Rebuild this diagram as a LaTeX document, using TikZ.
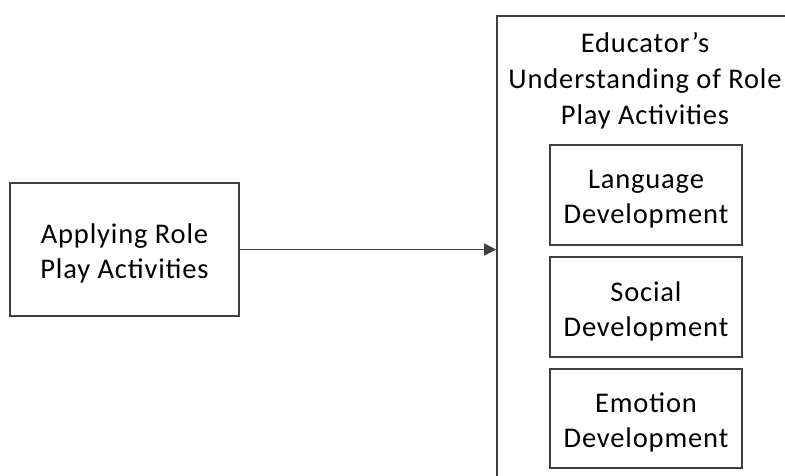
\documentclass[tikz,border=0pt]{standalone}
\usepackage{fontspec}
\setmainfont{Carlito}[LetterSpace=3]
\usetikzlibrary{arrows.meta}
\definecolor{edge}{HTML}{404040}
\begin{document}
\begin{tikzpicture}[x=1pt,y=-1pt,
  box/.style={draw=edge,line width=1.6pt,rectangle,inner sep=0pt},
  lbl/.style={align=center,font=\fontsize{28.5}{35}\selectfont,text=black,inner sep=0pt,yshift=-4pt},
  title/.style={align=center,font=\fontsize{28.5}{36}\selectfont,text=black,inner sep=0pt}]
\useasboundingbox (0,0) rectangle (785,475);
\clip (0,0) rectangle (785,475);
\fill[white] (0,0) rectangle (785,475);
\node[box,minimum width=298pt,minimum height=468pt] (big) at (646,250) {};
\node[title] (ttl) at (645,81) {Educator’s\\Understanding of Role\\Play Activities};
\node[box,minimum width=229pt,minimum height=133pt,
  label={[lbl]center:{Applying Role\\Play Activities}}] (apply) at (124.5,249.5) {};
\node[box,minimum width=192pt,minimum height=100pt,
  label={[lbl]center:{Language\\Development}}] (lang) at (646,195) {};
\node[box,minimum width=192pt,minimum height=100pt,
  label={[lbl]center:{Social\\Development}}] (soc) at (646,307) {};
\node[box,minimum width=192pt,minimum height=99pt,
  label={[lbl]center:{Emotion\\Development}}] (emo) at (646,418.5) {};
\draw[edge,line width=1.6pt,-{Triangle[length=12pt,width=12pt]}] (apply.east) -- (apply.east -| big.west);
\end{tikzpicture}
\end{document}
